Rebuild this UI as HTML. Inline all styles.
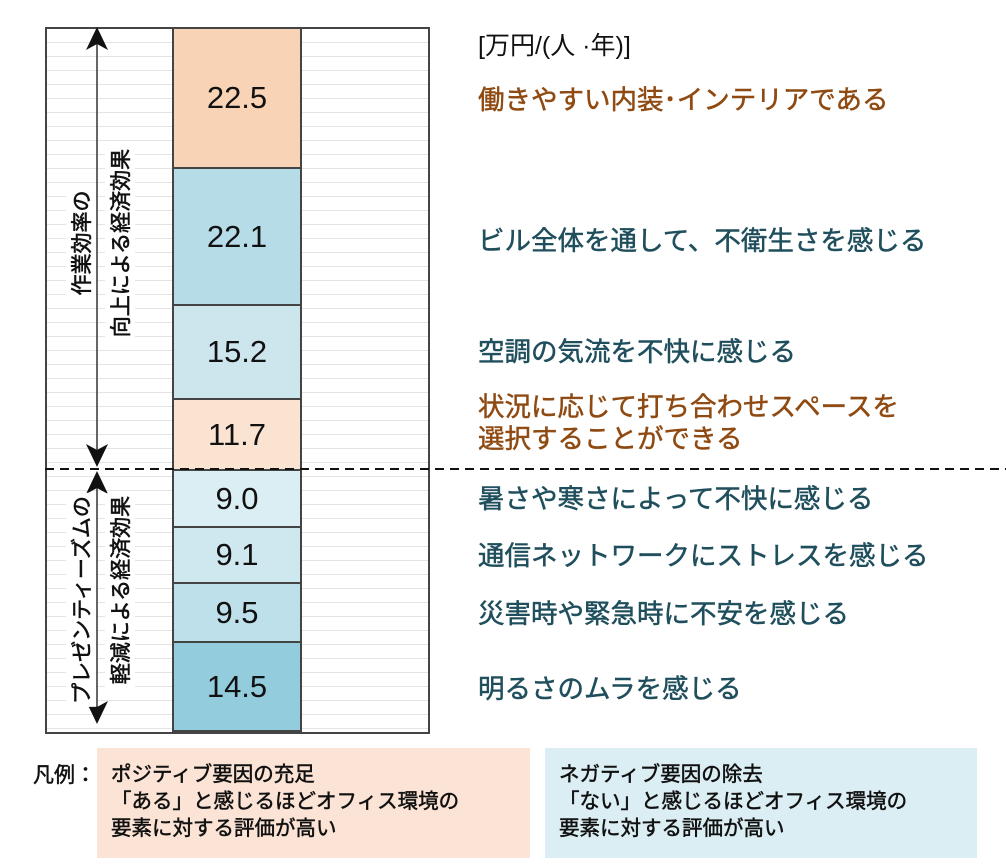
<!DOCTYPE html>
<html><head><meta charset="utf-8"><style>
body{margin:0;width:1006px;height:864px;background:#fff;position:relative;overflow:hidden;font-family:"Liberation Sans","Noto Sans CJK JP",sans-serif;}
.a{position:absolute;}
#frame{left:45px;top:27px;width:381px;height:703px;border:2px solid #444;background:repeating-linear-gradient(to bottom,transparent 0,transparent 13px,#e4e4e4 13px,#e4e4e4 14px);}
.seg{position:absolute;left:172px;border:2px solid #444;display:flex;align-items:center;justify-content:center;font-size:31px;color:#111;box-sizing:border-box;width:130px;}
.lab{position:absolute;left:478px;font-size:26.5px;line-height:32px;white-space:nowrap;-webkit-text-stroke:0.5px currentColor;}
.o{color:#8f4a12}.b{color:#1f4e5c}
.vt{position:absolute;transform:translate(-50%,-50%) rotate(-90deg);white-space:nowrap;font-size:21px;-webkit-text-stroke:0.6px #111;color:#111;background:#fff;padding:0 3px;}
.lg{position:absolute;font-size:20.5px;line-height:27px;color:#111;padding:13px 0 0 14px;box-sizing:border-box;-webkit-text-stroke:0.5px #111;}
</style></head><body>
<div id="frame" class="a"></div>
<div class="seg" style="top:27px;height:142px;background:#f9d3b5">22.5</div>
<div class="seg" style="top:167px;height:139px;background:#b6dce7">22.1</div>
<div class="seg" style="top:304px;height:96px;background:#cde6ee">15.2</div>
<div class="seg" style="top:398px;height:73px;background:#fbe3d2">11.7</div>
<div class="seg" style="top:469px;height:59px;background:#dbeef4">9.0</div>
<div class="seg" style="top:526px;height:58px;background:#cfe7ef">9.1</div>
<div class="seg" style="top:582px;height:61px;background:#bde0ea">9.5</div>
<div class="seg" style="top:641px;height:91px;background:#93ccdd">14.5</div>
<svg class="a" style="left:0;top:0" width="1006" height="864">
<line x1="45" y1="469" x2="1006" y2="469" stroke="#111" stroke-width="2" stroke-dasharray="9,6"/>
<line x1="97" y1="35" x2="97" y2="455" stroke="#333" stroke-width="1.5"/>
<polygon points="97,27 86,50 97,44 108,50" fill="#111"/>
<polygon points="97,467 86,444 97,450 108,444" fill="#111"/>
<line x1="97" y1="478" x2="97" y2="720" stroke="#333" stroke-width="1.5"/>
<polygon points="97,471 86,494 97,488 108,494" fill="#111"/>
<polygon points="97,724 86,701 97,707 108,701" fill="#111"/>
</svg>
<div class="vt" style="left:81px;top:243px">作業効率の</div>
<div class="vt" style="left:120px;top:243px">向上による経済効果</div>
<div class="vt" style="left:81px;top:600px">プレゼンティーズムの</div>
<div class="vt" style="left:120px;top:590px">軽減による経済効果</div>
<div class="lab" style="top:30px;color:#111;-webkit-text-stroke:0;font-size:25px">[万円/(人 ·年)]</div>
<div class="lab o" style="top:84px">働きやすい内装･インテリアである</div>
<div class="lab b" style="top:225px">ビル全体を通して、不衛生さを感じる</div>
<div class="lab b" style="top:336px">空調の気流を不快に感じる</div>
<div class="lab o" style="top:391px">状況に応じて打ち合わせスペースを<br>選択することができる</div>
<div class="lab b" style="top:483px">暑さや寒さによって不快に感じる</div>
<div class="lab b" style="top:540px">通信ネットワークにストレスを感じる</div>
<div class="lab b" style="top:598px">災害時や緊急時に不安を感じる</div>
<div class="lab b" style="top:673px">明るさのムラを感じる</div>
<div class="a" style="left:33px;top:759px;font-size:21px;color:#111;-webkit-text-stroke:0.5px #111">凡例：</div>
<div class="lg" style="left:97px;top:748px;width:433px;height:110px;background:#fbe4d5">ポジティブ要因の充足<br>「ある」と感じるほどオフィス環境の<br>要素に対する評価が高い</div>
<div class="lg" style="left:545px;top:748px;width:432px;height:110px;background:#dbeef4">ネガティブ要因の除去<br>「ない」と感じるほどオフィス環境の<br>要素に対する評価が高い</div>
</body></html>
